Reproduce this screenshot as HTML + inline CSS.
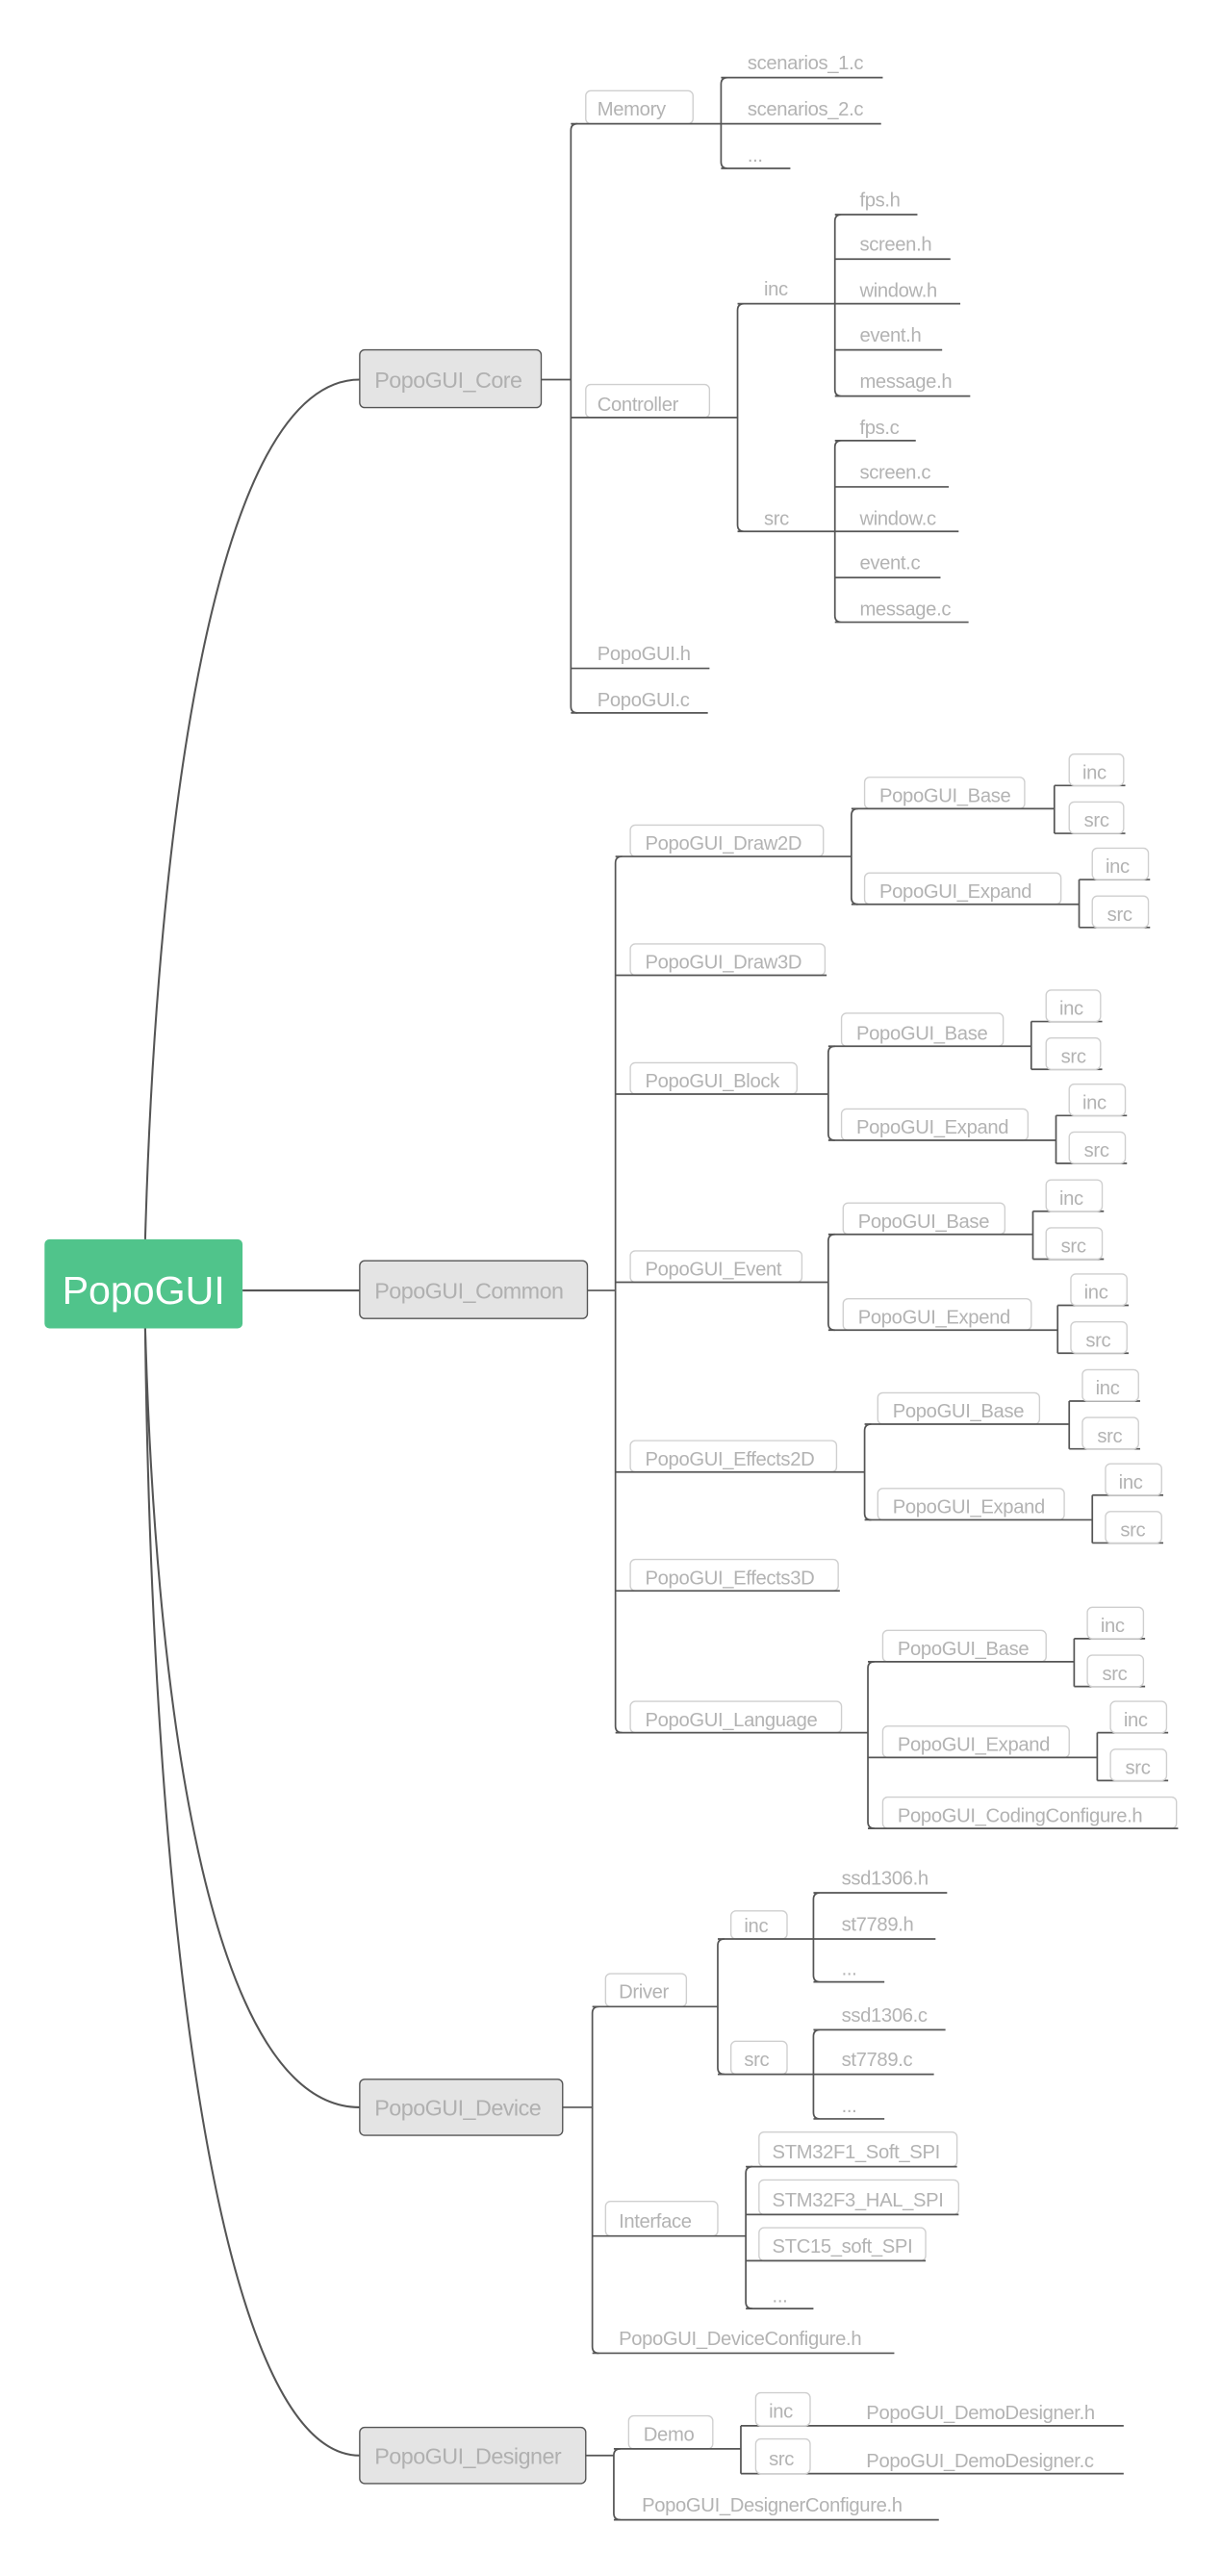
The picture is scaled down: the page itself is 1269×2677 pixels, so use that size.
<!DOCTYPE html>
<html><head><meta charset="utf-8"><style>
html,body{margin:0;padding:0;background:#fff;}
svg{display:block;}
text{font-family:"Liberation Sans",sans-serif;fill:#b3b3b3;font-size:11.8px;letter-spacing:-0.2px;}
.l1{font-size:13.6px;fill:#b0b0b0;letter-spacing:-0.3px;}
.ln{stroke:#555;stroke-width:1;fill:none;}
.bx{fill:#fff;stroke:#cfcfcf;stroke-width:0.8;}
.b1{fill:#e4e4e4;stroke:#555;stroke-width:0.8;}
.cv{stroke:#555;stroke-width:1.2;fill:none;}
</style></head><body>
<svg width="1269" height="2677" viewBox="0 0 740 1561" xmlns="http://www.w3.org/2000/svg">
<path class="cv" d="M88,751 C95,500 130,230 218,230"/>
<path class="cv" d="M147,782 L218,782"/>
<path class="cv" d="M88,805 C95,1050 130,1277 218,1277"/>
<path class="cv" d="M88,805 C92,1150 130,1488 218,1488"/>
<rect x="27" y="751" width="120" height="54" rx="3" fill="#50c48b"/>
<text x="87" y="790" text-anchor="middle" style="font-size:24px;fill:#fff;letter-spacing:0">PopoGUI</text>

<rect class="b1" x="218" y="212" width="110" height="35" rx="3"/>
<text class="l1" x="227" y="235">PopoGUI_Core</text>
<path class="ln" d="M328,230H346M350,75Q346,75 346,79V428Q346,432 350,432"/>
<rect class="bx" x="355" y="55" width="65" height="20" rx="3"/>
<text x="362" y="70">Memory</text>
<path class="ln" d="M346,75H437M441,47Q437,47 437,51V98Q437,102 441,102M437,47H535M437,75H534M437,102H479"/>
<text x="453" y="42">scenarios_1.c</text>
<text x="453" y="70">scenarios_2.c</text>
<text x="453" y="98">...</text>
<rect class="bx" x="355" y="233" width="75" height="20" rx="3"/>
<text x="362" y="249">Controller</text>
<path class="ln" d="M346,253H447M451,184Q447,184 447,188V318Q447,322 451,322M447,184H506M447,322H506"/>
<text x="463" y="179">inc</text>
<text x="463" y="318">src</text>
<path class="ln" d="M510,130Q506,130 506,134V236Q506,240 510,240M506,130H556M506,157H576M506,184H582M506,212H571M506,240H588"/>
<text x="521" y="125">fps.h</text><text x="521" y="152">screen.h</text><text x="521" y="180">window.h</text><text x="521" y="207">event.h</text><text x="521" y="235">message.h</text>
<path class="ln" d="M510,267Q506,267 506,271V373Q506,377 510,377M506,267H555M506,295H575M506,322H581M506,350H570M506,377H587"/>
<text x="521" y="263">fps.c</text><text x="521" y="290">screen.c</text><text x="521" y="318">window.c</text><text x="521" y="345">event.c</text><text x="521" y="373">message.c</text>
<text x="362" y="400">PopoGUI.h</text><path class="ln" d="M346,405H430"/>
<text x="362" y="428">PopoGUI.c</text><path class="ln" d="M346,432H429"/>

<rect class="b1" x="218" y="764" width="138" height="35" rx="3"/>
<text class="l1" x="227" y="787">PopoGUI_Common</text>
<path class="ln" d="M356,782H373M377,519Q373,519 373,523V1046Q373,1050 377,1050"/>
<rect class="bx" x="382" y="500" width="117" height="19" rx="3"/><text x="391" y="515">PopoGUI_Draw2D</text>
<path class="ln" d="M373,519H516M520,490Q516,490 516,494V544Q516,548 520,548"/>
<rect class="bx" x="524" y="471" width="97" height="19" rx="3"/><text x="533" y="486">PopoGUI_Base</text>
<path class="ln" d="M516,490H639M639,476V505M639,476H682M639,505H682"/>
<rect class="bx" x="648" y="457" width="33" height="19" rx="3"/><text x="656" y="472">inc</text>
<rect class="bx" x="648" y="486" width="33" height="19" rx="3"/><text x="657" y="501">src</text>
<rect class="bx" x="524" y="529" width="119" height="19" rx="3"/><text x="533" y="544">PopoGUI_Expand</text>
<path class="ln" d="M516,548H654M654,533V562M654,533H697M654,562H697"/>
<rect class="bx" x="662" y="514" width="34" height="19" rx="3"/><text x="670" y="529">inc</text>
<rect class="bx" x="662" y="543" width="34" height="19" rx="3"/><text x="671" y="558">src</text>
<rect class="bx" x="382" y="572" width="118" height="19" rx="3"/><text x="391" y="587">PopoGUI_Draw3D</text>
<path class="ln" d="M373,591H501"/>
<rect class="bx" x="382" y="644" width="101" height="19" rx="3"/><text x="391" y="659">PopoGUI_Block</text>
<path class="ln" d="M373,663H502M506,634Q502,634 502,638V687Q502,691 506,691"/>
<rect class="bx" x="510" y="614" width="98" height="20" rx="3"/><text x="519" y="630">PopoGUI_Base</text>
<path class="ln" d="M502,634H625M625,619V648M625,619H668M625,648H668"/>
<rect class="bx" x="634" y="600" width="33" height="19" rx="3"/><text x="642" y="615">inc</text>
<rect class="bx" x="634" y="629" width="33" height="19" rx="3"/><text x="643" y="644">src</text>
<rect class="bx" x="510" y="672" width="113" height="19" rx="3"/><text x="519" y="687">PopoGUI_Expand</text>
<path class="ln" d="M502,691H640M640,676V705M640,676H683M640,705H683"/>
<rect class="bx" x="648" y="657" width="34" height="19" rx="3"/><text x="656" y="672">inc</text>
<rect class="bx" x="648" y="686" width="34" height="19" rx="3"/><text x="657" y="701">src</text>
<rect class="bx" x="382" y="758" width="104" height="19" rx="3"/><text x="391" y="773">PopoGUI_Event</text>
<path class="ln" d="M373,777H502M506,748Q502,748 502,752V802Q502,806 506,806"/>
<rect class="bx" x="511" y="729" width="98" height="19" rx="3"/><text x="520" y="744">PopoGUI_Base</text>
<path class="ln" d="M502,748H626M626,734V763M626,734H669M626,763H669"/>
<rect class="bx" x="634" y="715" width="34" height="19" rx="3"/><text x="642" y="730">inc</text>
<rect class="bx" x="634" y="744" width="34" height="19" rx="3"/><text x="643" y="759">src</text>
<rect class="bx" x="511" y="787" width="114" height="19" rx="3"/><text x="520" y="802">PopoGUI_Expend</text>
<path class="ln" d="M502,806H641M641,791V820M641,791H684M641,820H684"/>
<rect class="bx" x="649" y="772" width="34" height="19" rx="3"/><text x="657" y="787">inc</text>
<rect class="bx" x="649" y="801" width="34" height="19" rx="3"/><text x="658" y="816">src</text>
<rect class="bx" x="382" y="873" width="125" height="19" rx="3"/><text x="391" y="888">PopoGUI_Effects2D</text>
<path class="ln" d="M373,892H524M528,863Q524,863 524,867V917Q524,921 528,921"/>
<rect class="bx" x="532" y="844" width="98" height="19" rx="3"/><text x="541" y="859">PopoGUI_Base</text>
<path class="ln" d="M524,863H648M648,849V878M648,849H691M648,878H691"/>
<rect class="bx" x="656" y="830" width="34" height="19" rx="3"/><text x="664" y="845">inc</text>
<rect class="bx" x="656" y="859" width="34" height="19" rx="3"/><text x="665" y="874">src</text>
<rect class="bx" x="532" y="902" width="113" height="19" rx="3"/><text x="541" y="917">PopoGUI_Expand</text>
<path class="ln" d="M524,921H662M662,906V935M662,906H705M662,935H705"/>
<rect class="bx" x="670" y="887" width="34" height="19" rx="3"/><text x="678" y="902">inc</text>
<rect class="bx" x="670" y="916" width="34" height="19" rx="3"/><text x="679" y="931">src</text>
<rect class="bx" x="382" y="945" width="126" height="19" rx="3"/><text x="391" y="960">PopoGUI_Effects3D</text>
<path class="ln" d="M373,964H509"/>
<rect class="bx" x="382" y="1031" width="128" height="19" rx="3"/><text x="391" y="1046">PopoGUI_Language</text>
<path class="ln" d="M373,1050H526M530,1007Q526,1007 526,1011V1104Q526,1108 530,1108"/>
<rect class="bx" x="535" y="988" width="99" height="19" rx="3"/><text x="544" y="1003">PopoGUI_Base</text>
<path class="ln" d="M526,1007H651M651,993V1022M651,993H694M651,1022H694"/>
<rect class="bx" x="659" y="974" width="34" height="19" rx="3"/><text x="667" y="989">inc</text>
<rect class="bx" x="659" y="1003" width="34" height="19" rx="3"/><text x="668" y="1018">src</text>
<rect class="bx" x="535" y="1046" width="113" height="19" rx="3"/><text x="544" y="1061">PopoGUI_Expand</text>
<path class="ln" d="M526,1065H665M665,1050V1079M665,1050H708M665,1079H708"/>
<rect class="bx" x="673" y="1031" width="34" height="19" rx="3"/><text x="681" y="1046">inc</text>
<rect class="bx" x="673" y="1060" width="34" height="19" rx="3"/><text x="682" y="1075">src</text>
<rect class="bx" x="535" y="1089" width="178" height="19" rx="3"/><text x="544" y="1104">PopoGUI_CodingConfigure.h</text>
<path class="ln" d="M526,1108H714"/>

<rect class="b1" x="218" y="1260" width="123" height="34" rx="3"/>
<text class="l1" x="227" y="1282">PopoGUI_Device</text>
<path class="ln" d="M341,1277H359M363,1216Q359,1216 359,1220V1422Q359,1426 363,1426"/>
<rect class="bx" x="367" y="1196" width="49" height="20" rx="3"/><text x="375" y="1211">Driver</text>
<path class="ln" d="M359,1216H435M439,1175Q435,1175 435,1179V1253Q435,1257 439,1257"/>
<rect class="bx" x="443" y="1158" width="34" height="17" rx="3"/><text x="451" y="1171">inc</text>
<path class="ln" d="M435,1175H493M497,1147Q493,1147 493,1151V1197Q493,1201 497,1201M493,1147H574M493,1175H567M493,1201H536"/>
<text x="510" y="1142">ssd1306.h</text><text x="510" y="1170">st7789.h</text><text x="510" y="1197">...</text>
<rect class="bx" x="443" y="1237" width="34" height="20" rx="3"/><text x="451" y="1252">src</text>
<path class="ln" d="M435,1257H493M497,1230Q493,1230 493,1234V1280Q493,1284 497,1284M493,1230H573M493,1257H566M493,1284H536"/>
<text x="510" y="1225">ssd1306.c</text><text x="510" y="1252">st7789.c</text><text x="510" y="1280">...</text>
<rect class="bx" x="367" y="1334" width="68" height="21" rx="3"/><text x="375" y="1350">Interface</text>
<path class="ln" d="M359,1355H452M456,1313Q452,1313 452,1317V1395Q452,1399 456,1399"/>
<rect class="bx" x="460" y="1292" width="120" height="21" rx="3"/><text x="468" y="1308">STM32F1_Soft_SPI</text>
<rect class="bx" x="460" y="1321" width="121" height="21" rx="3"/><text x="468" y="1337">STM32F3_HAL_SPI</text>
<rect class="bx" x="460" y="1350" width="101" height="20" rx="3"/><text x="468" y="1365">STC15_soft_SPI</text>
<path class="ln" d="M452,1313H580M452,1342H581M452,1370H561M452,1399H493"/>
<text x="468" y="1395">...</text>
<text x="375" y="1421">PopoGUI_DeviceConfigure.h</text>
<path class="ln" d="M359,1426H542"/>

<rect class="b1" x="218" y="1471" width="137" height="34" rx="3"/>
<text class="l1" x="227" y="1493">PopoGUI_Designer</text>
<path class="ln" d="M355,1488H372M376,1484Q372,1484 372,1488V1523Q372,1527 376,1527"/>
<rect class="bx" x="381" y="1464" width="51" height="20" rx="3"/><text x="390" y="1479">Demo</text>
<path class="ln" d="M372,1484H449M449,1470V1499M449,1470H681M449,1499H681"/>
<rect class="bx" x="458" y="1450" width="33" height="20" rx="3"/><text x="466" y="1465">inc</text>
<rect class="bx" x="458" y="1478" width="33" height="21" rx="3"/><text x="466" y="1494">src</text>
<text x="525" y="1466">PopoGUI_DemoDesigner.h</text>
<text x="525" y="1495">PopoGUI_DemoDesigner.c</text>
<text x="389" y="1522">PopoGUI_DesignerConfigure.h</text>
<path class="ln" d="M372,1527H569"/>
</svg>
</body></html>
